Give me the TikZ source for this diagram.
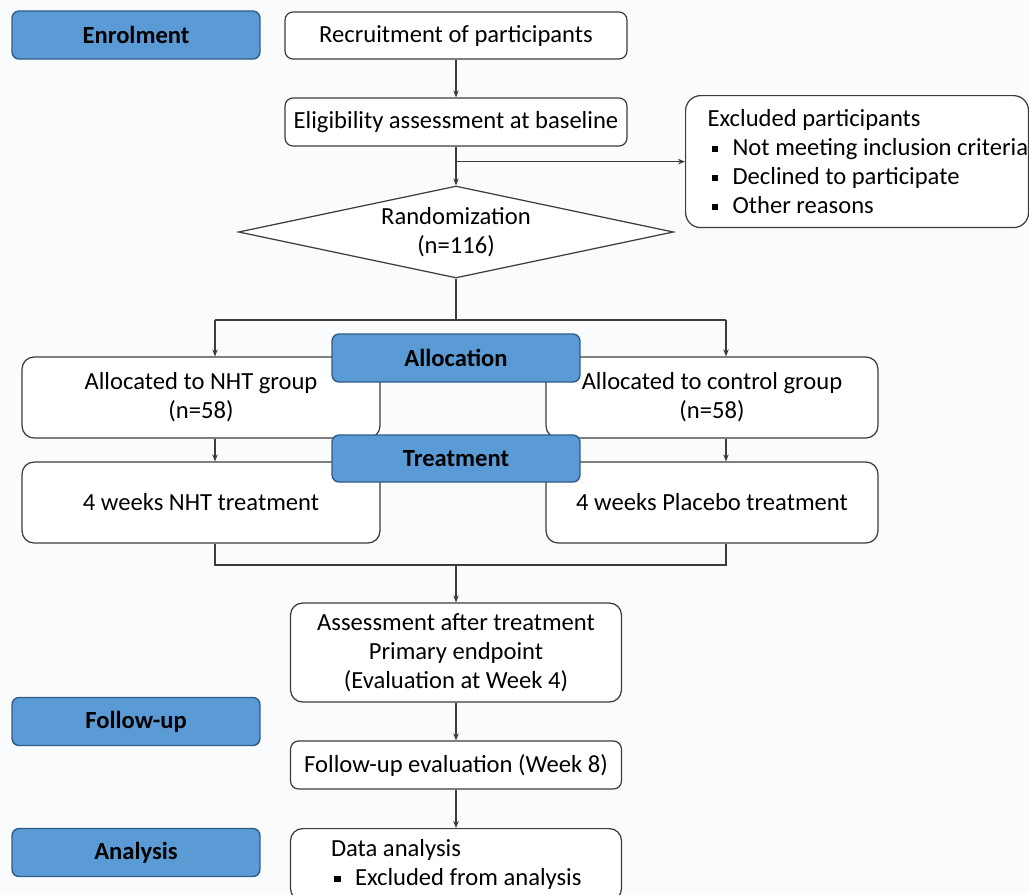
\documentclass[tikz,border=0pt]{standalone}
\usepackage{fontspec}
\setmainfont{Carlito}
\usetikzlibrary{shapes.geometric,arrows.meta}
\definecolor{labblue}{RGB}{91,155,213}
\definecolor{labedge}{RGB}{50,92,135}
\definecolor{lines}{RGB}{60,60,60}
\definecolor{bgc}{RGB}{250,251,253}
\newcommand{\bsq}{\rule[0.3ex]{0.13cm}{0.13cm}\hspace{0.29cm}}

\begin{document}
\begin{tikzpicture}[x=0.02cm,y=-0.02cm,
    every node/.style={font=\fontsize{14}{16.5}\selectfont},
    lbl/.style={draw=labedge, fill=labblue, line width=0.8pt, rounded corners=0.14cm,
        font=\fontsize{14}{16.5}\selectfont\bfseries, minimum width=4.96cm, minimum height=0.96cm},
    box/.style={draw=lines, fill=white, line width=0.7pt, rounded corners=0.16cm,
        align=center, inner sep=0pt},
    arr/.style={draw=lines, line width=0.6pt, -{Stealth[length=0.14cm,width=0.11cm]}},
    lin/.style={draw=lines, line width=0.6pt}]

%page and background
    \clip (0,0) rectangle (1029,894);
    \fill[bgc] (0,0) rectangle (1029,894);

%stage labels on the left
    \node[lbl] (enrol) at (136,35) {Enrolment};
    \node[lbl] (fup) at (136,721.5) {Follow-up};
    \node[lbl] (anal) at (136,852.5) {Analysis};

%main column
    \node[box, minimum width=6.84cm, minimum height=0.94cm] (recruit) at (456,35.5) {Recruitment of participants};
    \node[box, minimum width=6.84cm, minimum height=0.96cm] (elig) at (456,122) {Eligibility assessment at baseline};
    \node[box, anchor=north west, rounded corners=0.3cm, text width=6.86cm, minimum height=2.64cm, align=left] (excl) at (685,95)
        {\spaceskip=0pt\hspace*{0.44cm}Excluded participants\\
         \mbox{\hspace{0.52cm}\bsq Not meeting inclusion criteria}\\
         \mbox{\hspace{0.52cm}\bsq Declined to participate}\\
         \mbox{\hspace{0.52cm}\bsq Other reasons}};
    \node[draw=lines, fill=white, line width=0.7pt, diamond, aspect=4.7, inner sep=0pt,
        minimum width=8.7cm, minimum height=1.84cm, align=center] (rand) at (456,232) {Randomization\\(n=116)};

%two arms
    \node[box, rounded corners=0.24cm, minimum width=7.16cm, minimum height=1.62cm] (nhtA) at (201,397.5) {Allocated to NHT group\\(n=58)};
    \node[box, rounded corners=0.24cm, minimum width=6.64cm, minimum height=1.62cm] (ctrlA) at (712,397.5) {Allocated to control group\\(n=58)};
    \node[box, rounded corners=0.24cm, minimum width=7.16cm, minimum height=1.62cm] (nhtT) at (201,502.5) {4 weeks NHT treatment};
    \node[box, rounded corners=0.24cm, minimum width=6.64cm, minimum height=1.62cm] (ctrlT) at (712,502.5) {4 weeks Placebo treatment};
    \node[lbl] (alloc) at (456,358) {Allocation};
    \node[lbl, minimum height=0.94cm] (treat) at (456,458.5) {Treatment};

%after treatment
    \node[box, rounded corners=0.24cm, minimum width=6.62cm, minimum height=1.98cm] (assess) at (456,652.5)
        {Assessment after treatment\\Primary endpoint\\(Evaluation at Week 4)};
    \node[box, minimum width=6.62cm, minimum height=0.96cm] (fupeval) at (456,765) {Follow-up evaluation (Week 8)};
    \node[box, anchor=north, rounded corners=0.24cm, text width=6.62cm, minimum height=1.44cm, align=left] (data) at (456,828)
        {\spaceskip=0pt\hspace*{0.81cm}Data analysis\\
         \mbox{\hspace{0.87cm}\bsq Excluded from analysis}};

%draw connectors
    \coordinate (split) at (456,320);
    \coordinate (lft) at (215,320);
    \coordinate (rgt) at (726,320);
    \coordinate (join) at (456,565);
    \draw[arr] (recruit) -- (elig);
    \draw[arr] (elig) -- (rand);
    \draw[arr] (elig.south |- excl.west) -- (excl.west);
    \draw[lin] (rand.south) -- (split);
    \draw[lin] (lft) -- (rgt);
    \draw[arr] (lft) -- (lft |- nhtA.north);
    \draw[arr] (rgt) -- (rgt |- ctrlA.north);
    \draw[arr] (lft |- nhtA.south) -- (lft |- nhtT.north);
    \draw[arr] (rgt |- ctrlA.south) -- (rgt |- ctrlT.north);
    \draw[lin] (lft |- nhtT.south) -- (lft |- join) -- (rgt |- join) -- (rgt |- ctrlT.south);
    \draw[arr] (join) -- (assess);
    \draw[arr] (assess) -- (fupeval);
    \draw[arr] (fupeval) -- (data);

\end{tikzpicture}
\end{document}
